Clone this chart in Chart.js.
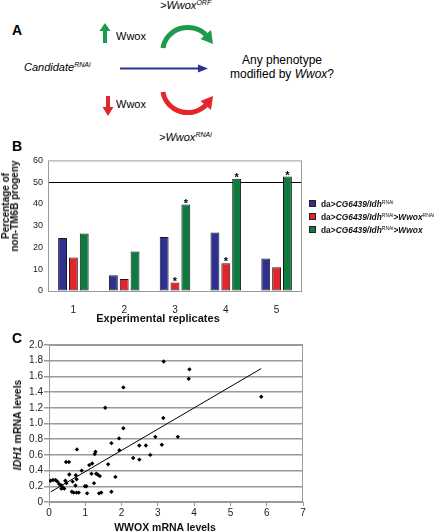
<!DOCTYPE html>
<html>
<head>
<meta charset="utf-8">
<script src="https://cdn.jsdelivr.net/npm/chart.js@4/dist/chart.umd.min.js"></script>
<style>
  body { margin: 0; width: 440px; height: 532px; position: relative; background: #fff; overflow: hidden;
         font-family: "Liberation Sans", Arial, sans-serif; color: #111; }
  canvas, .abs { position: absolute; }
  .rot { transform: translate(-50%, -50%) rotate(-90deg); white-space: nowrap; text-align: center; font-weight: bold; }
  .ctr { transform: translate(-50%, -50%); white-space: nowrap; font-weight: bold; }
  .legend { font: bold 8.4px "Liberation Sans", Arial, sans-serif; line-height: 13px; white-space: nowrap; }
  .legend sup { font-size: 5px; vertical-align: 3px; line-height: 0; font-weight: normal; }
  .sw { display: inline-block; width: 5px; height: 5px; border: 1px solid #222; margin-right: 5px; vertical-align: 0px; }
</style>
</head>
<body>

<!-- panel A: schematic -->
<svg class="abs" style="left:0;top:0" width="440" height="160" font-family="Liberation Sans, Arial, sans-serif">
  <text x="12" y="35" font-size="14" font-weight="bold">A</text>
  <text x="160" y="9" font-size="11" font-style="italic">&gt;Wwox<tspan font-size="7" dy="-4">ORF</tspan></text>
  <polygon points="105,23 99.5,31 103,31 103,43 107,43 107,31 110.5,31" fill="#1d9a4e"/>
  <text x="116" y="40" font-size="11">Wwox</text>
  <path d="M163,48 A25,24 0 0 1 206,35" stroke="#1d9a4e" stroke-width="5" fill="none"/>
  <polygon points="213,44 211,30 200.5,39" fill="#1d9a4e"/>
  <text x="24" y="71" font-size="11" font-style="italic">Candidate<tspan font-size="7" dy="-4">RNAi</tspan></text>
  <line x1="120" y1="68.5" x2="200" y2="68.5" stroke="#2b3190" stroke-width="2"/>
  <polygon points="198,64.5 208,68.5 198,72.5" fill="#2b3190"/>
  <text x="282" y="64" font-size="12" text-anchor="middle">Any phenotype</text>
  <text x="282" y="78" font-size="12" text-anchor="middle">modified by <tspan font-style="italic">Wwox</tspan>?</text>
  <polygon points="108,116 102.5,107 106,107 106,96 110,96 110,107 113.5,107" fill="#e3262b"/>
  <text x="116" y="108" font-size="11">Wwox</text>
  <path d="M163,92 A25,24 0 0 0 206,105" stroke="#e3262b" stroke-width="5" fill="none"/>
  <polygon points="213,96 211,110 200.5,101" fill="#e3262b"/>
  <text x="159" y="141" font-size="11" font-style="italic">&gt;Wwox<tspan font-size="7" dy="-4">RNAi</tspan></text>
  <text x="12" y="151" font-size="14" font-weight="bold">B</text>
</svg>

<!-- panel B -->
<canvas id="chartB" width="310" height="181" style="left:0;top:150px"></canvas>
<div class="abs rot" style="left:10px;top:206px;font-size:10px;line-height:9px">Percentage of<br>non-TM6B progeny</div>
<div class="abs ctr" style="left:158px;top:318px;font-size:11px">Experimental replicates</div>
<div class="abs legend" style="left:309px;top:198px">
  <div><span class="sw" style="background:#2e3192"></span>da&gt;<i>CG6439/Idh</i><sup>RNAi</sup></div>
  <div><span class="sw" style="background:#e3242b"></span>da&gt;<i>CG6439/Idh</i><sup>RNAi</sup>&gt;<i>Wwox</i><sup>RNAi</sup></div>
  <div><span class="sw" style="background:#0f7a40"></span>da&gt;<i>CG6439/Idh</i><sup>RNAi</sup>&gt;<i>Wwox</i></div>
</div>

<!-- panel C -->
<svg class="abs" style="left:0;top:326px" width="30" height="20"><text x="12" y="17" font-size="14" font-weight="bold" font-family="Liberation Sans, Arial, sans-serif">C</text></svg>
<canvas id="chartC" width="310" height="197" style="left:0;top:335px"></canvas>
<div class="abs rot" style="left:17px;top:425px;font-size:10.5px"><i>IDH1</i> mRNA levels</div>
<div class="abs ctr" style="left:165px;top:527px;font-size:10.5px">WWOX mRNA levels</div>

<script>
// ---- panel B data ----
const replicates = ["1", "2", "3", "4", "5"];
const idhRnai = [24.3, 7.2, 24.8, 26.9, 14.9];
const idhRnaiWwoxRnai = [15.4, 5.5, 3.9, 12.7, 10.9];
const idhRnaiWwox = [26.4, 18.1, 39.7, 51.6, 52.6];
const bTickLabels = ["0", "10", "20", "30", "40", "50", "60"];
// [dataset, replicate] pairs marked with an asterisk
const starred = [[1, 2], [2, 2], [1, 3], [2, 3], [2, 4]];

// ---- panel C data ----
const wwoxLevels = [3.16, 3.87, 3.85, 2.05, 1.55, 3.15, 2.05, 2.93, 3.55, 1.93,
  1.72, 2.49, 2.67, 3.11, 0.77, 1.28, 1.26, 1.94, 2.79, 2.32,
  2.49, 0.47, 0.55, 1.63, 1.11, 1.19, 0.90, 0.56, 1.17, 1.30,
  1.34, 1.40, 0.74, 1.83, 0.04, 0.11, 0.18, 0.23, 0.28, 0.34,
  0.45, 0.65, 0.76, 0.39, 0.34, 0.42, 0.73, 0.99, 1.03, 0.48,
  1.24, 0.63, 0.68, 0.76, 1.05, 1.38, 1.44, 1.72, 5.85, 0.82];
const idh1Levels = [1.79, 1.69, 1.57, 1.46, 1.20, 1.07, 0.94, 0.83, 0.83, 0.81,
  0.75, 0.72, 0.72, 0.73, 0.67, 0.64, 0.61, 0.66, 0.60, 0.56,
  0.54, 0.51, 0.51, 0.48, 0.47, 0.49, 0.40, 0.35, 0.36, 0.36,
  0.35, 0.33, 0.34, 0.32, 0.27, 0.28, 0.28, 0.26, 0.23, 0.21,
  0.27, 0.26, 0.29, 0.18, 0.17, 0.17, 0.21, 0.20, 0.20, 0.24,
  0.24, 0.13, 0.12, 0.12, 0.11, 0.11, 0.12, 0.13, 1.34, 0.12];
const trendX = [0.05, 5.85];
const trendY = [0.13, 1.70];
const cTickLabelsX = ["0", "1", "2", "3", "4", "5", "6", "7"];
const cTickLabelsY = ["0", "0.2", "0.4", "0.6", "0.8", "1.0", "1.2", "1.4", "1.6", "1.8", "2.0"];

const FONT = "'Liberation Sans', Arial, sans-serif";
Chart.defaults.font.family = FONT;
Chart.defaults.color = "#222";

// grey frame round the plot area
const frame = {
  id: "frame",
  beforeDatasetsDraw(chart) {
    const a = chart.chartArea, ctx = chart.ctx;
    ctx.save();
    ctx.strokeStyle = "#9a9a9a";
    ctx.lineWidth = 1;
    ctx.strokeRect(a.left + 0.5, a.top + 0.5, a.right - a.left - 1, a.bottom - a.top);
    ctx.restore();
  }
};

const stars = {
  id: "stars",
  afterDatasetsDraw(chart) {
    const ctx = chart.ctx;
    ctx.save();
    ctx.font = "bold 11px " + FONT;
    ctx.fillStyle = "#000";
    ctx.textAlign = "center";
    starred.forEach(([d, i]) => {
      const bar = chart.getDatasetMeta(d).data[i];
      ctx.fillText("*", bar.x, bar.y + 2);
    });
    ctx.restore();
  }
};

new Chart(document.getElementById("chartB"), {
  type: "bar",
  data: {
    labels: replicates,
    datasets: [
      { data: idhRnai, backgroundColor: "#2e3192" },
      { data: idhRnaiWwoxRnai, backgroundColor: "#e3242b" },
      { data: idhRnaiWwox, backgroundColor: "#0f7a40" },
    ].map(d => Object.assign(d, { borderColor: "#1a1a1a", borderWidth: 1, borderSkipped: false,
      categoryPercentage: 0.64, barPercentage: 0.82 })),
  },
  options: {
    responsive: false,
    animation: false,
    devicePixelRatio: 1,
    layout: { padding: { top: 7, right: 8, left: 0, bottom: 0 } },
    plugins: { legend: { display: false }, tooltip: { enabled: false } },
    scales: {
      x: {
        grid: { display: false },
        border: { display: false },
        ticks: { font: { family: FONT, size: 10 }, padding: 5 },
        afterFit: s => { s.height = 40; },
      },
      y: {
        min: 0, max: 60,
        ticks: { stepSize: 10, font: { family: FONT, size: 9 }, padding: 5, callback: (v, i) => bTickLabels[i] },
        grid: { drawTicks: false, color: c => (c.tick && c.tick.value === 50 ? "#000" : "rgba(0,0,0,0)") },
        border: { display: false },
        afterFit: s => { s.width = 48; },
      },
    },
  },
  plugins: [frame, stars],
});

new Chart(document.getElementById("chartC"), {
  type: "scatter",
  data: {
    datasets: [
      {
        data: wwoxLevels.map((x, i) => ({ x: x, y: idh1Levels[i] })),
        pointStyle: "rectRot", pointRadius: 2.2, backgroundColor: "#000", borderWidth: 0,
      },
      {
        data: trendX.map((x, i) => ({ x: x, y: trendY[i] })),
        showLine: true, pointRadius: 0, borderColor: "#000", borderWidth: 1,
      },
    ],
  },
  options: {
    responsive: false,
    animation: false,
    devicePixelRatio: 1,
    layout: { padding: { top: 10, right: 7, left: 0, bottom: 0 } },
    plugins: { legend: { display: false }, tooltip: { enabled: false } },
    scales: {
      x: {
        min: 0, max: 7,
        ticks: { stepSize: 1, font: { family: FONT, size: 10 }, padding: 1, callback: (v, i) => cTickLabelsX[i] },
        grid: { drawOnChartArea: false, tickLength: 4, color: "#9a9a9a" },
        border: { display: false },
        afterFit: s => { s.height = 30; },
      },
      y: {
        min: 0, max: 2,
        ticks: { stepSize: 0.2, font: { family: FONT, size: 10 }, padding: 1, callback: (v, i) => cTickLabelsY[i] },
        grid: { color: "#9a9a9a", lineWidth: 1.5, tickLength: 5 },
        border: { display: false },
        afterFit: s => { s.width = 49; },
      },
    },
  },
  plugins: [frame],
});
</script>
</body>
</html>
